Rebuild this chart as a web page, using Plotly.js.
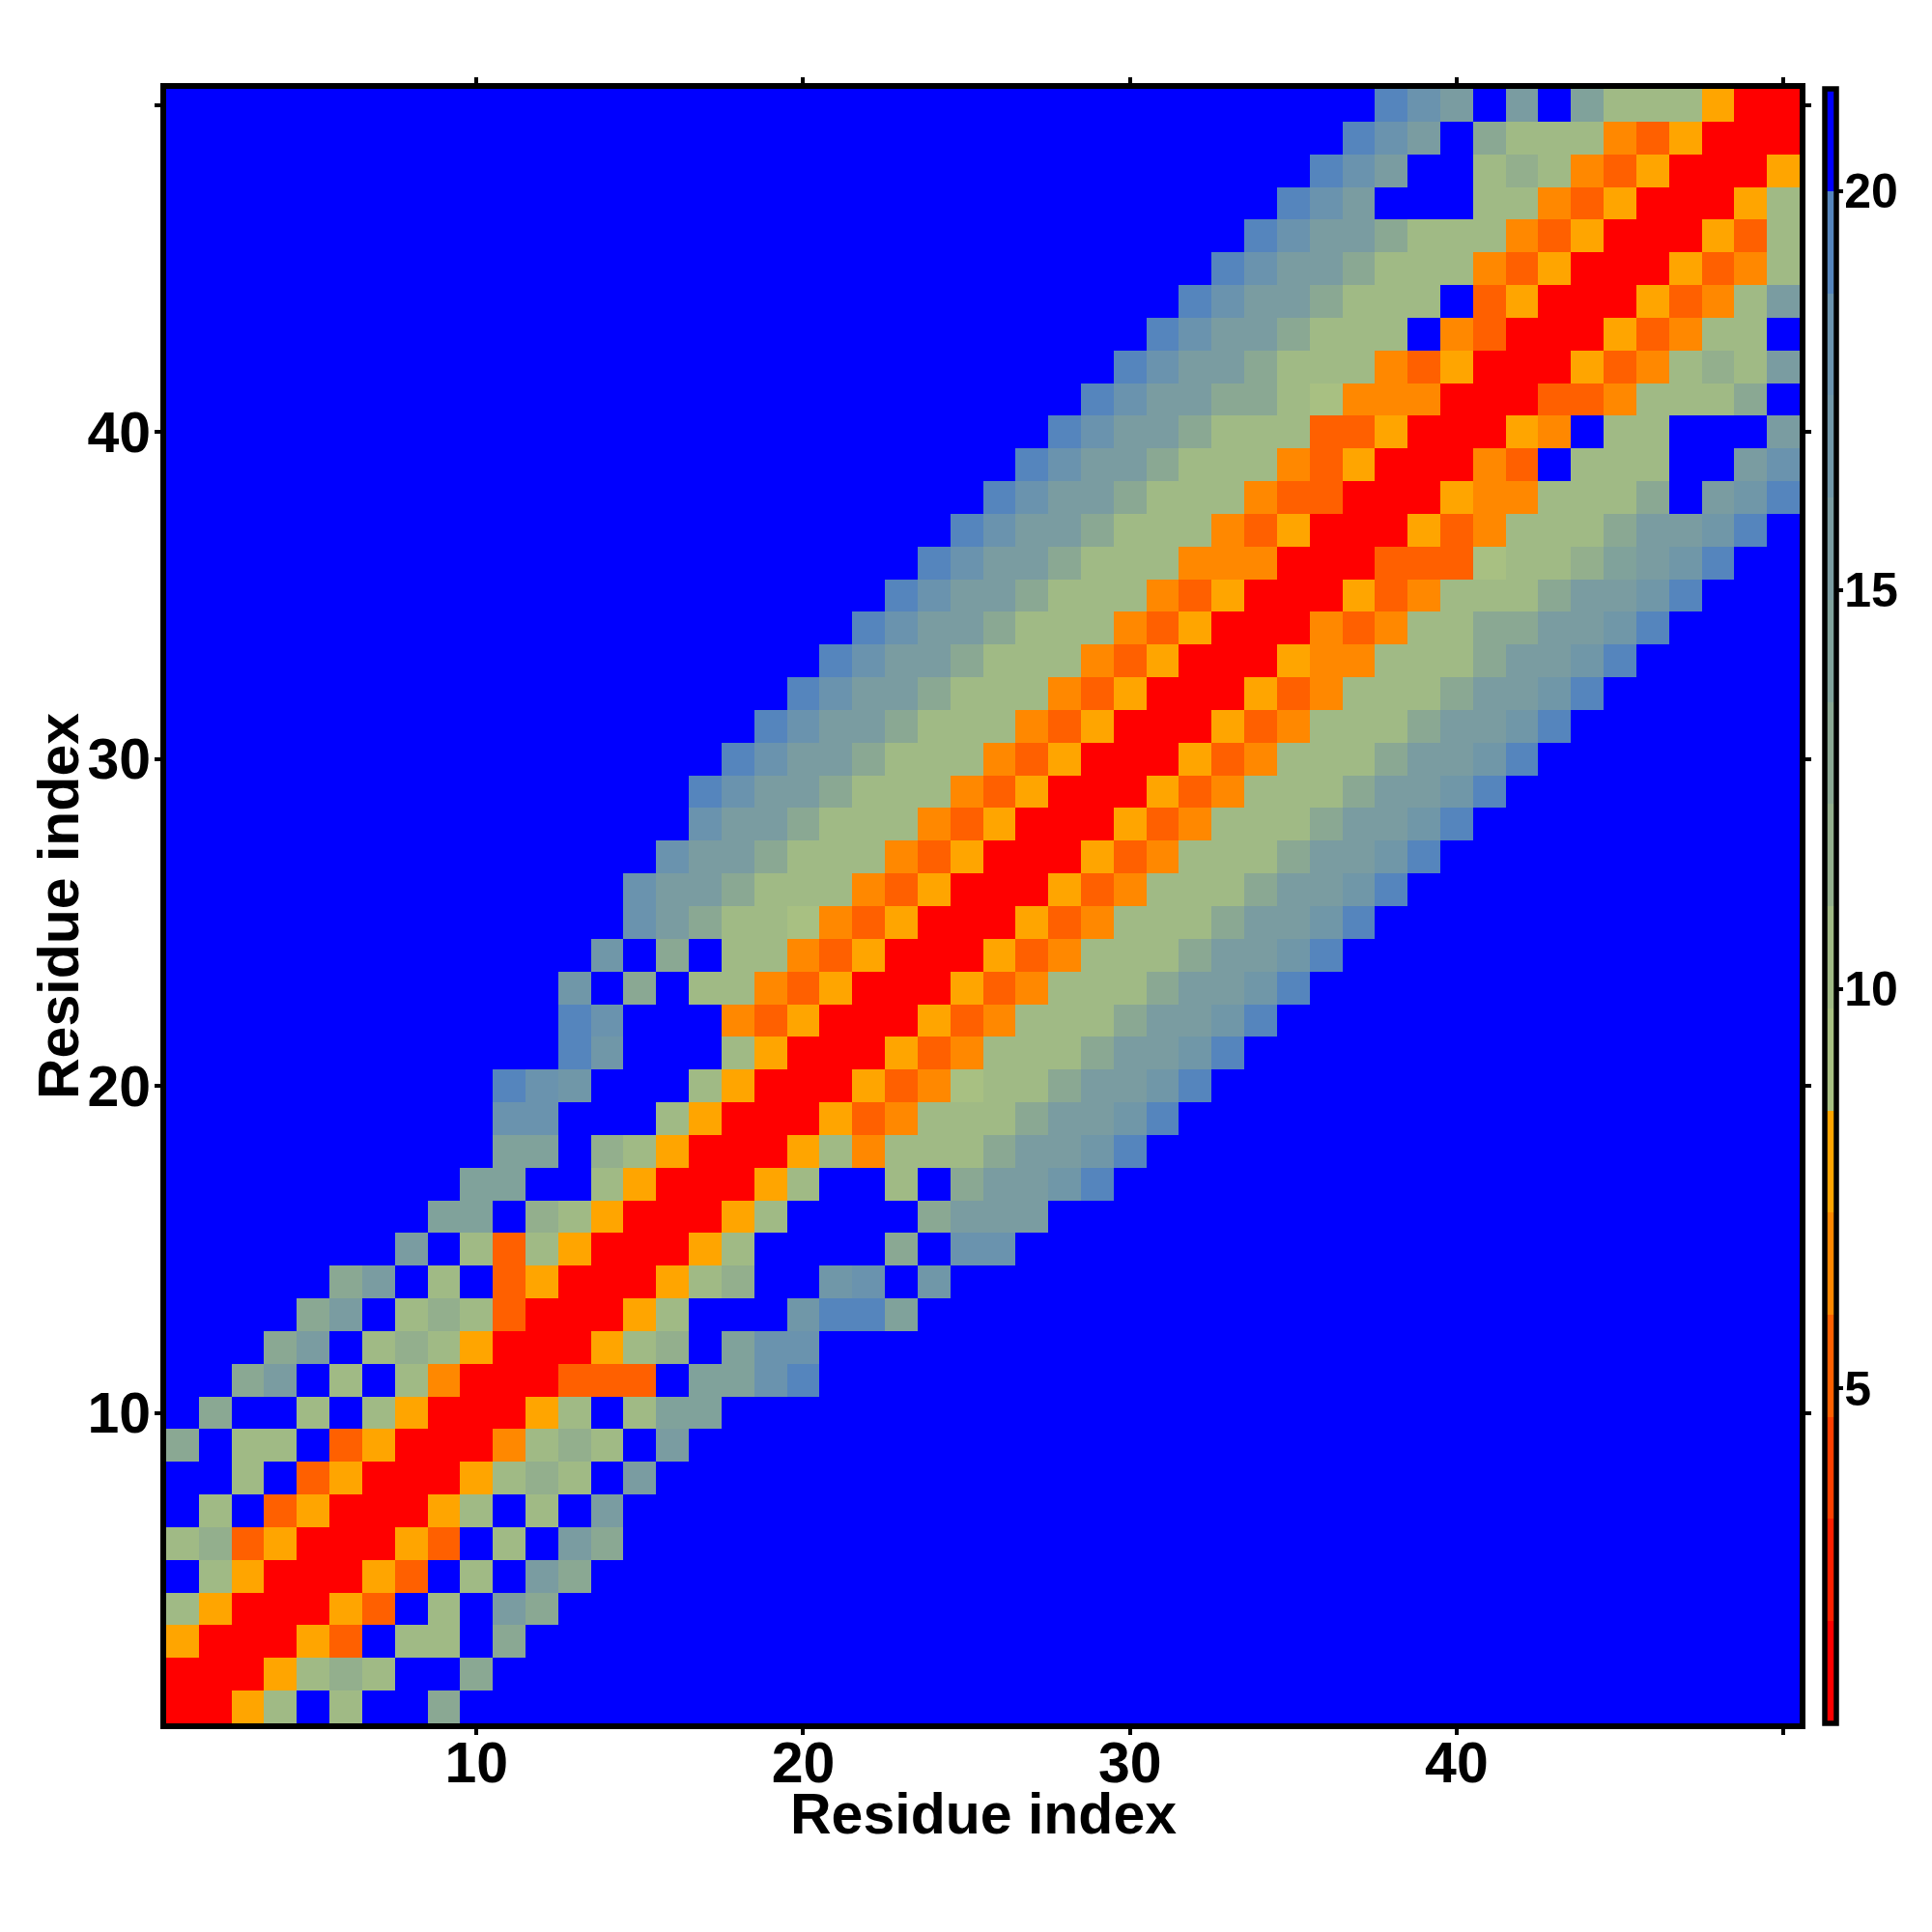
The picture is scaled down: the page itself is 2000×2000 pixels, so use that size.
<!DOCTYPE html>
<html>
<head>
<meta charset="utf-8">
<script src="https://cdn.plot.ly/plotly-3.0.1.min.js"></script>
<style>html,body{margin:0;padding:0;background:#fff}</style>
</head>
<body>
<div id="chart" style="width:2000px;height:2000px"></div>
<script>
// Distances (one representative value per colour band)
const R=1.4, D=5.3, F=6.6, O=7.8, A=9.1, S=10.4, G=11.7, H=13, I=14.2, J=15.5, K=16.8, M=18.1, N=19.4, B=20.6;

// First residue column listed per row (row 1 .. row 50); everything outside a row's list is beyond the far band
const rowStart = [1,1,1,1,1,1,1,1,1,1,1,4,5,6,8,9,10,11,11,11,13,13,13,14,15,15,16,17,17,18,19,20,21,22,23,24,25,26,27,28,29,30,31,32,33,34,35,36,37,38];

const row01=[R,R,O,S,B,S,B,B,H];
const row02=[R,R,R,O,S,G,S,B,B,H];
const row03=[O,R,R,R,O,D,B,S,S,B,H];
const row04=[S,O,R,R,R,O,D,B,S,B,J,H];
const row05=[B,S,O,R,R,R,O,D,B,S,B,J,H];
const row06=[S,G,D,O,R,R,R,O,D,B,S,B,J,H];
const row07=[B,S,B,D,O,R,R,R,O,S,B,S,B,J];
const row08=[B,B,S,B,D,O,R,R,R,O,S,G,S,B,J];
const row09=[H,B,S,S,B,D,O,R,R,R,F,S,G,S,B,J];
const row10=[B,H,B,B,S,B,S,O,R,R,R,O,S,B,S,I,I];
const row11=[B,B,H,J,B,S,B,S,F,R,R,R,D,D,D,B,I,I,M,N];
const row12=[H,J,B,S,G,S,O,R,R,R,O,S,G,B,I,M,M];
const row13=[H,J,B,S,G,S,D,R,R,R,O,S,B,B,B,K,N,N,I];
const row14=[H,J,B,S,B,D,O,R,R,R,O,S,G,B,B,K,M,B,K];
const row15=[J,B,S,D,S,O,R,R,R,O,S,B,B,B,B,H,B,M,M];
const row16=[I,I,B,G,S,O,R,R,R,O,S,B,B,B,B,H,J,J,J];
const row17=[I,I,B,B,S,O,R,R,R,O,S,B,B,S,B,H,J,J,K,N];
const row18=[I,I,B,G,S,O,R,R,R,O,S,F,S,S,S,H,J,J,K,N];
const row19=[M,M,B,B,B,S,O,R,R,R,O,D,F,S,S,S,H,J,J,K,N];
const row20=[N,M,K,B,B,B,S,O,R,R,R,O,D,F,A,S,S,H,J,J,K,N];
const row21=[N,K,B,B,B,S,O,R,R,R,O,D,F,S,S,S,H,J,J,K,N];
const row22=[N,M,B,B,B,F,D,O,R,R,R,O,D,F,S,S,S,H,J,J,K,N];
const row23=[K,B,H,B,S,S,F,D,O,R,R,R,O,D,F,S,S,S,H,J,J,K,N];
const row24=[K,B,H,B,S,S,F,D,O,R,R,R,O,D,F,S,S,S,H,J,J,K,N];
const row25=[M,J,H,S,S,A,F,D,O,R,R,R,O,D,F,S,S,S,H,J,J,K,N];
const row26=[M,J,J,H,S,S,S,F,D,O,R,R,R,O,D,F,S,S,S,H,J,J,K,N];
const row27=[M,J,J,H,S,S,S,F,D,O,R,R,R,O,D,F,S,S,S,H,J,J,K,N];
const row28=[M,J,J,H,S,S,S,F,D,O,R,R,R,O,D,F,S,S,S,H,J,J,K,N];
const row29=[N,M,J,J,H,S,S,S,F,D,O,R,R,R,O,D,F,S,S,S,H,J,J,K,N];
const row30=[N,M,J,J,H,S,S,S,F,D,O,R,R,R,O,D,F,S,S,S,H,J,J,K,N];
const row31=[N,M,J,J,H,S,S,S,F,D,O,R,R,R,O,D,F,S,S,S,H,J,J,K,N];
const row32=[N,M,J,J,H,S,S,S,F,D,O,R,R,R,O,D,F,S,S,S,H,J,J,K,N];
const row33=[N,M,J,J,H,S,S,S,F,D,O,R,R,R,O,F,F,S,S,S,H,J,J,K,N];
const row34=[N,M,J,J,H,S,S,S,F,D,O,R,R,R,F,D,F,S,S,H,H,J,J,K,N];
const row35=[N,M,J,J,H,S,S,S,F,D,O,R,R,R,O,D,F,S,S,S,H,J,J,K,N];
const row36=[N,M,J,J,H,S,S,S,F,F,F,R,R,R,D,D,D,A,S,S,G,I,J,K,N];
const row37=[N,M,J,J,H,S,S,S,F,D,O,R,R,R,O,D,F,S,S,S,H,J,J,K,N];
const row38=[N,M,J,J,H,S,S,S,F,D,D,R,R,R,O,F,F,S,S,S,H,B,J,K,N];
const row39=[N,M,J,J,H,S,S,S,F,D,O,R,R,R,F,D,B,S,S,S,B,B,J,M];
const row40=[N,M,J,J,H,S,S,S,D,D,O,R,R,R,O,F,B,S,S,B,B,B,J];
const row41=[N,M,J,J,H,H,S,A,F,F,F,R,R,R,D,D,F,S,S,S,H,B];
const row42=[N,M,J,J,H,S,S,S,F,D,O,R,R,R,O,D,F,S,G,S,J];
const row43=[N,M,J,J,H,S,S,S,B,F,D,R,R,R,O,D,F,S,S,B];
const row44=[N,M,J,J,H,S,S,S,B,D,O,R,R,R,O,D,F,S,J];
const row45=[N,M,J,J,H,S,S,S,F,D,O,R,R,R,O,D,F,S];
const row46=[N,M,J,J,H,S,S,S,F,D,O,R,R,R,O,D,S];
const row47=[N,M,J,B,B,B,S,S,F,D,O,R,R,R,O,S];
const row48=[N,M,J,B,B,S,G,S,F,D,O,R,R,R,O];
const row49=[N,M,J,B,H,S,S,S,F,D,O,R,R,R];
const row50=[N,M,J,B,J,B,I,S,S,S,O,R,R];

const rowValues=[row01,row02,row03,row04,row05,row06,row07,row08,row09,row10,
row11,row12,row13,row14,row15,row16,row17,row18,row19,row20,
row21,row22,row23,row24,row25,row26,row27,row28,row29,row30,
row31,row32,row33,row34,row35,row36,row37,row38,row39,row40,
row41,row42,row43,row44,row45,row46,row47,row48,row49,row50];

const residues=Array.from({length:50},(_,i)=>i+1);
const bandColors=['#ff0000','#ff2000','#ff4000','#ff6000','#ff8800','#ffa500','#a8c082','#a0ba85','#93af8d','#8aa893','#80a29b','#7a9ca1','#7097a8','#6a93ae','#5585bd','#0000ff'];
const axisTicks=[10,20,30,40,50];
const axisTickText=['10','20','30','40',''];
const barTicks=[5,10,15,20];
const axisTitle='Residue index';

const z=rowValues.map((vals,r)=>residues.map(c=>{
  const k=c-rowStart[r];
  return (k>=0&&k<vals.length)?vals[k]:B;
}));
const colorscale=[];
bandColors.forEach((c,i)=>{colorscale.push([i/16,c]);colorscale.push([(i+1)/16,c]);});

const fam='"Liberation Sans", Arial, sans-serif';
const titleFont={family:fam,size:59,color:'#000',weight:700};
function axis(labelShift){
  return {
    range:[0.5,50.5],tickmode:'array',tickvals:axisTicks,ticktext:axisTickText,
    ticks:'outside',ticklen:6,tickwidth:4,tickcolor:'#000',
    showline:true,linewidth:6,linecolor:'#000',mirror:'ticks',
    showgrid:false,zeroline:false,automargin:false,
    tickfont:{family:fam,size:59,color:'#000',weight:700},
    ticklabelstandoff:labelShift
  };
}
Plotly.newPlot('chart',[{
  type:'heatmap',x:residues,y:residues,z:z,zmin:0.8,zmax:21.28,
  colorscale:colorscale,hoverongaps:false,
  colorbar:{
    thickness:11.5,thicknessmode:'pixels',len:1,lenmode:'fraction',
    x:1,xanchor:'left',xpad:26,y:0,yanchor:'bottom',ypad:0,
    outlinewidth:5.5,outlinecolor:'#000',borderwidth:0,
    tickmode:'array',tickvals:barTicks,ticktext:barTicks.map(String),
    ticks:'outside',ticklen:5,tickwidth:4,tickcolor:'#000',
    tickfont:{family:fam,size:50,color:'#000',weight:700}
  }
}],{
  width:2000,height:2000,
  margin:{l:171.5,r:137,t:92,b:216.4,pad:0,autoexpand:false},
  paper_bgcolor:'#fff',plot_bgcolor:'#fff',
  xaxis:axis(-22),yaxis:axis(-8),
  annotations:[
    {text:axisTitle,xref:'paper',yref:'paper',x:0.5,y:0,xanchor:'center',yanchor:'middle',yshift:-94,showarrow:false,font:titleFont},
    {text:axisTitle,xref:'paper',yref:'paper',x:0,y:0.5,xanchor:'center',yanchor:'middle',xshift:-111,textangle:-90,showarrow:false,font:titleFont}
  ],
  showlegend:false
},{displayModeBar:false,staticPlot:true}).then(()=>{
  document.querySelectorAll('.colorbar text').forEach(t=>t.setAttribute('dx','-9'));
});
</script>
</body>
</html>
